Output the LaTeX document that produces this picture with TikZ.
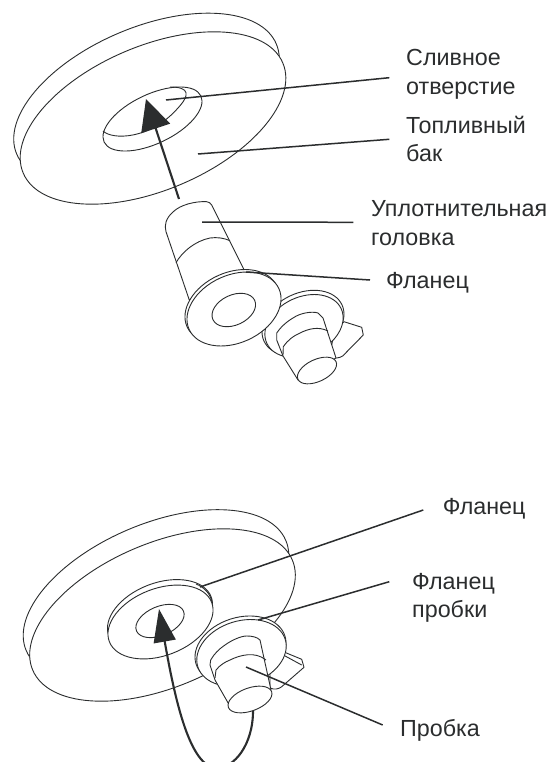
\documentclass[tikz,border=0pt]{standalone}
\usepackage{fontspec}
\setmainfont{Liberation Sans}
\usetikzlibrary{arrows.meta}
\definecolor{ink}{HTML}{2B2D2E}
\tikzset{
  x=1pt,y=-1pt,
  part/.style={draw=ink,line width=0.9pt,fill=white,line join=round},
  edge/.style={draw=ink,line width=0.9pt,line join=round},
  leader/.style={draw=ink,line width=1.5pt},
  mover/.style={draw=ink,line width=2.1pt},
  lbl/.style={anchor=base west,inner sep=0pt,align=left,text=ink,font=\fontsize{23.3}{28.5}\selectfont},
}
\newcommand{\myell}[5]{\path[part,shift={(#1,#2)},rotate=#5] (0,0) ellipse [x radius=#3pt,y radius=#4pt];}
\begin{document}
\begin{tikzpicture}
\useasboundingbox (0,0) rectangle (555,762);
% --- top: tank
\myell{146.5}{99}{141}{71.5}{23}
\myell{153}{118}{141}{72}{23}
\myell{152.5}{119}{53.6}{24.6}{25.5}
\draw[edge] (103,131) .. controls (112,140) and (150,140) .. (178,108) .. controls (190,95) and (190,87) .. (170,87);
% --- top: plug
\myell{303}{323}{43}{30}{25}
\path[part] (344,321.7) -- (361.7,327.3) -- (363.3,335) -- (342.7,356) .. controls (340,358) and (334,359) .. (329,357) -- (335,330) -- cycle;
\myell{304}{326}{41}{29}{25}
\path[part] (276.7,340) -- (276.7,333) .. controls (280,328) and (286,322) .. (293,318) .. controls (300,313) and (312,311) .. (318,313) -- (323,318) -- (336,358) -- (298,380) -- (283,356) -- cycle;
\draw[edge] (283,355) -- (283.3,346.7) .. controls (288,340) and (293,336) .. (300,333) .. controls (308,329) and (318,326) .. (328,331);
\myell{317}{370.5}{21}{11}{25}
% --- top: sealing head
\path[part] (189.3,300) -- (166,231.7) .. controls (164,225) and (166,218) .. (173.3,211.7) .. controls (180,205) and (195,201) .. (206.7,201.7) .. controls (209,202) and (210.5,203) .. (211.7,205) -- (246.7,275) -- cycle;
\draw[edge] (176,262.7) .. controls (182,252) and (195,241) .. (210,238) .. controls (217,237) and (224,238) .. (230,240.7);
\myell{232}{306.5}{49.3}{33.9}{24.4}
\myell{234}{309}{49.3}{33.9}{24.4}
\myell{233.8}{310}{23}{15}{25}
% --- bottom: tank
\myell{156}{595.5}{141}{71.5}{23}
\myell{162.5}{615}{141}{72}{23}
\myell{160}{616.5}{54.8}{33.5}{21}
\draw[edge] (196,584) .. controls (204,587) and (211,594) .. (212,603);
\myell{160.5}{622}{54.8}{33.5}{21}
\myell{160}{621}{25.5}{14.5}{23}
% --- bottom: plug
\myell{240.5}{650}{46.6}{32.5}{17.5}
\path[part] (283.3,651.7) -- (301.7,659.3) -- (304,667.3) -- (281.7,686.7) .. controls (279,689) and (274,690) .. (270,688) -- (270,660) -- cycle;
\draw[edge] (283.3,655) -- (301.7,665);
\myell{241.5}{653}{45.8}{32}{17.5}
\path[part] (210,665) -- (210.7,660) .. controls (214,654) and (219,649) .. (225,645) .. controls (232,640) and (241,636) .. (246.7,636) .. controls (252,636) and (257,637) .. (260,640) -- (271,690) -- (228.3,703.3) -- (215,680) -- cycle;
\draw[edge] (215,678) -- (216,670) .. controls (220,665) and (225,662) .. (230,660) .. controls (240,655) and (255,651) .. (266,660);
\myell{250}{699.5}{23}{11.5}{20}
% --- arrows
\coordinate (upfrom) at (179,199);
\coordinate (uptip) at (146,99);
\draw[mover,-{Triangle[length=31pt,width=30pt]}] (upfrom) -- (uptip);
\coordinate (plugfrom) at (253,711);
\coordinate (flangetip) at (159,609);
\draw[mover,-{Triangle[length=33pt,width=22pt]}] (plugfrom) .. controls (253,745) and (234,768) .. (217,768) .. controls (190,768) and (175,700) .. (flangetip);
% --- labels
\node[lbl] (drain) at (406,94.3) {Сливное\\отверстие};
\node[lbl] (tank) at (406,161.7) {Топливный\\бак};
\node[lbl] (seal) at (371,245) {Уплотнительная\\головка};
\node[lbl] (fl1) at (386,288) {Фланец};
\node[lbl] (fl2) at (442.7,514) {Фланец};
\node[lbl] (fl3) at (412,617.7) {Фланец\\пробки};
\node[lbl] (pl) at (400,736) {Пробка};
% --- leaders
\foreach \n/\ax/\ay/\bx/\by in {a/166/100/389.3/77.7, b/198/154/389.3/139.3, c/202/222/353.3/222.3, d/246/272/370/280, e/200/587/423.3/510, f/258/620/389.3/581.7, g/246/667/382.7/725}{
  \coordinate (\n1) at (\ax,\ay);
  \coordinate (\n2) at (\bx,\by);
  \draw[leader] (\n1) -- (\n2);
}
\end{tikzpicture}
\end{document}
